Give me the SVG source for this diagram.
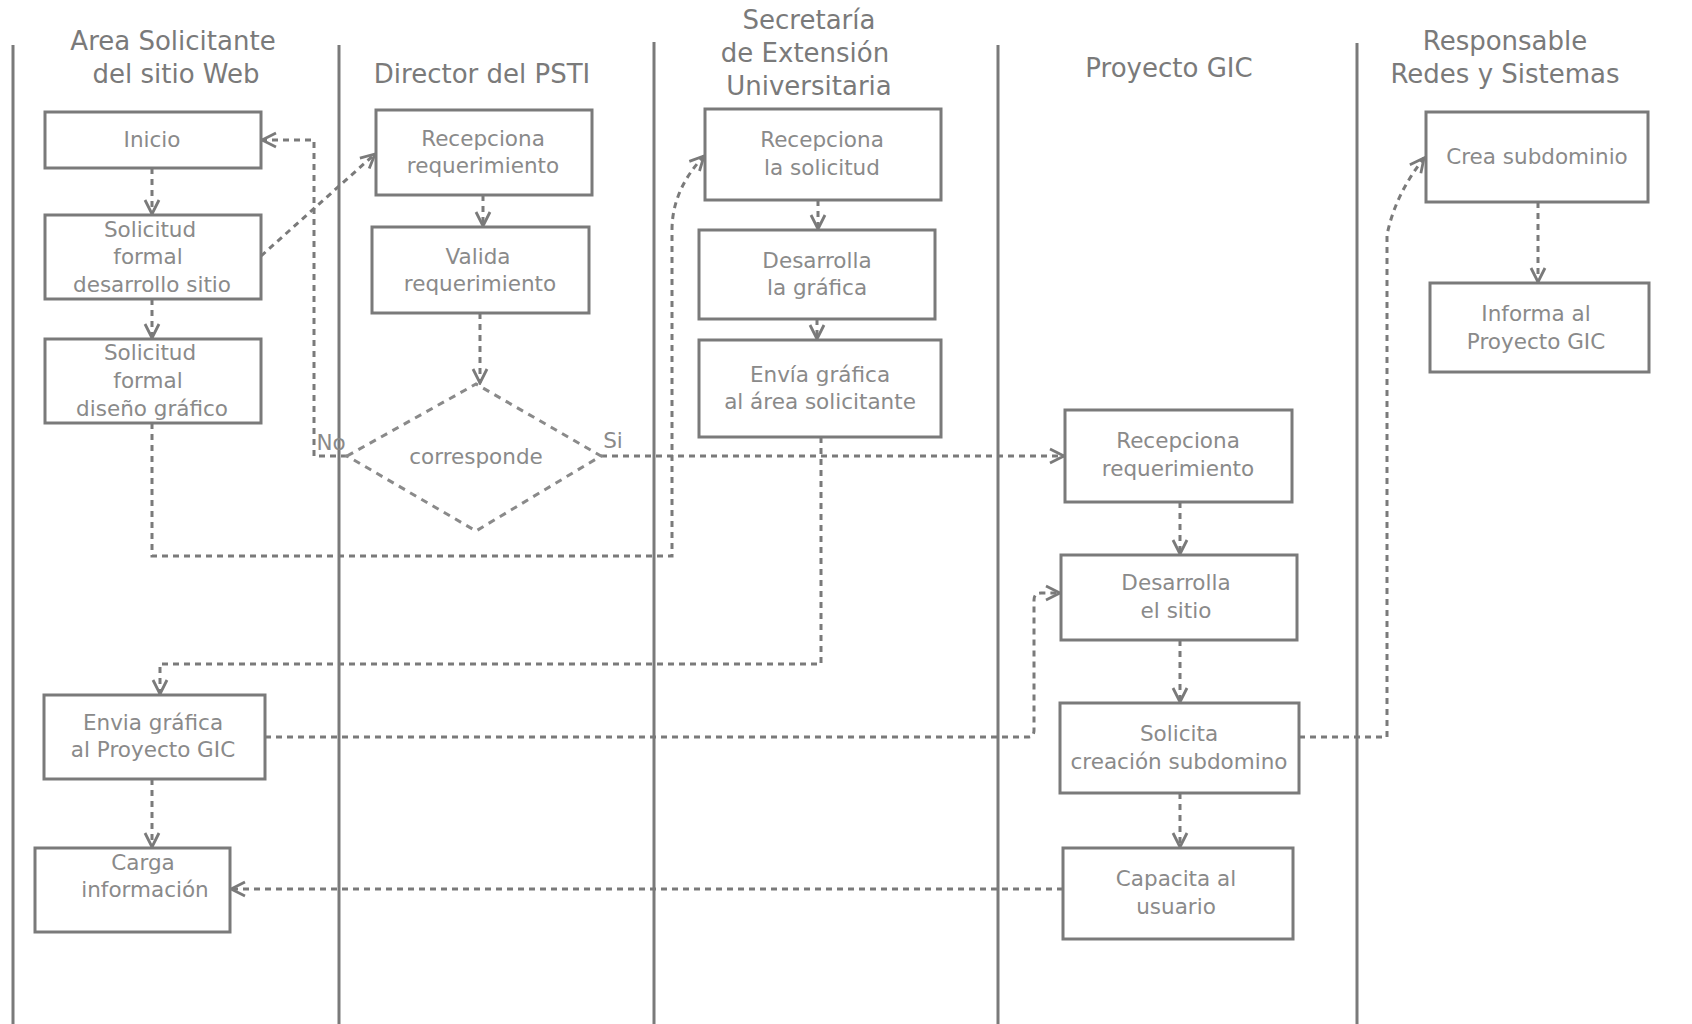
<svg xmlns="http://www.w3.org/2000/svg" width="1692" height="1024" viewBox="0 0 1692 1024">
<defs>
<style>
.lane{stroke:#7a7a7a;stroke-width:3;fill:none}
.hdr{font-family:"DejaVu Sans",sans-serif;font-size:26px;fill:#7a7a7a;text-anchor:middle;dominant-baseline:central}
.box{fill:#fff;stroke:#7a7a7a;stroke-width:3}
.lbl{font-family:"DejaVu Sans",sans-serif;font-size:21.5px;fill:#8a8a8a;text-anchor:middle;dominant-baseline:central}
.c{fill:none;stroke:#7a7a7a;stroke-width:3;stroke-dasharray:6 5}
.ca{fill:none;stroke:#7a7a7a;stroke-width:3;stroke-dasharray:6 5;marker-end:url(#arr)}
.dia{fill:none;stroke:#8a8a8a;stroke-width:3;stroke-dasharray:7 6}
</style>
<marker id="arr" viewBox="0 0 18 18" refX="16" refY="9" markerWidth="18" markerHeight="18" markerUnits="userSpaceOnUse" orient="auto">
<path d="M2,2 L16,9 L2,16" fill="none" stroke="#7a7a7a" stroke-width="2.8" stroke-dasharray="none"/>
</marker>
</defs>
<rect width="1692" height="1024" fill="#fff"/>

<g id="lanes">
<line class="lane" x1="13" y1="45" x2="13" y2="1024"/>
<line class="lane" x1="339" y1="45" x2="339" y2="1024"/>
<line class="lane" x1="654" y1="42" x2="654" y2="1024"/>
<line class="lane" x1="998" y1="45" x2="998" y2="1024"/>
<line class="lane" x1="1357" y1="43" x2="1357" y2="1024"/>
</g>

<g id="headers">
<text class="hdr" x="173" y="41">Area Solicitante</text>
<text class="hdr" x="176" y="74">del sitio Web</text>
<text class="hdr" x="482" y="74">Director del PSTI</text>
<text class="hdr" x="809" y="20">Secretaría</text>
<text class="hdr" x="805" y="53">de Extensión</text>
<text class="hdr" x="809" y="86">Universitaria</text>
<text class="hdr" x="1169" y="68">Proyecto GIC</text>
<text class="hdr" x="1505" y="41">Responsable</text>
<text class="hdr" x="1505" y="74">Redes y Sistemas</text>
</g>

<g id="connectors">
<path class="ca" d="M152,168 V214"/>
<path class="ca" d="M152,299 V338"/>
<path class="ca" d="M261,256 L375,154"/>
<path class="ca" d="M152,423 V556 H672 V230 Q672,190 704,156"/>
<path class="ca" d="M483,195 V226"/>
<path class="ca" d="M480,313 V383"/>
<path class="ca" d="M347,456 H314 V140 H262"/>
<path class="ca" d="M601,456 H1064"/>
<path class="ca" d="M818,200 V229"/>
<path class="ca" d="M817,319 V339"/>
<path class="ca" d="M821,437 V664 H160 V694"/>
<path class="ca" d="M265,737 H1029 Q1034,737 1034,730 V600 Q1034,593 1041,593 H1060"/>
<path class="ca" d="M152,779 V847"/>
<path class="ca" d="M1063,889 H231"/>
<path class="ca" d="M1180,502 V554"/>
<path class="ca" d="M1180,640 V702"/>
<path class="ca" d="M1180,793 V847"/>
<path class="ca" d="M1299,737 H1387 V235 Q1395,195 1424,158"/>
<path class="ca" d="M1538,202 V282"/>
</g>

<g id="n_inicio">
<rect class="box" x="45" y="112" width="216" height="56"/>
<text class="lbl" x="152" y="139">Inicio</text>
</g>
<g id="n_sol_desarrollo">
<rect class="box" x="45" y="215" width="216" height="84"/>
<text class="lbl" x="150" y="229">Solicitud</text>
<text class="lbl" x="148" y="256">formal</text>
<text class="lbl" x="152" y="284">desarrollo sitio</text>
</g>
<g id="n_sol_diseno">
<rect class="box" x="45" y="339" width="216" height="84"/>
<text class="lbl" x="150" y="352">Solicitud</text>
<text class="lbl" x="148" y="380">formal</text>
<text class="lbl" x="152" y="408">diseño gráfico</text>
</g>
<g id="n_envia_gic">
<rect class="box" x="44" y="695" width="221" height="84"/>
<text class="lbl" x="153" y="722">Envia gráfica</text>
<text class="lbl" x="153" y="749">al Proyecto GIC</text>
</g>
<g id="n_carga">
<rect class="box" x="35" y="848" width="195" height="84"/>
<text class="lbl" x="143" y="862">Carga</text>
<text class="lbl" x="145" y="889">información</text>
</g>

<g id="n_dir_recepciona">
<rect class="box" x="376" y="110" width="216" height="85"/>
<text class="lbl" x="483" y="138">Recepciona</text>
<text class="lbl" x="483" y="165">requerimiento</text>
</g>
<g id="n_valida">
<rect class="box" x="372" y="227" width="217" height="86"/>
<text class="lbl" x="478" y="256">Valida</text>
<text class="lbl" x="480" y="283">requerimiento</text>
</g>
<g id="n_corresponde">
<polygon class="dia" points="347,456 476,384 601,456 476,531"/>
<text class="lbl" x="476" y="456">corresponde</text>
<text class="lbl" x="331" y="442">No</text>
<text class="lbl" x="613" y="440">Si</text>
</g>

<g id="n_sec_recepciona">
<rect class="box" x="705" y="109" width="236" height="91"/>
<text class="lbl" x="822" y="139">Recepciona</text>
<text class="lbl" x="822" y="167">la solicitud</text>
</g>
<g id="n_sec_desarrolla">
<rect class="box" x="699" y="230" width="236" height="89"/>
<text class="lbl" x="817" y="260">Desarrolla</text>
<text class="lbl" x="817" y="287">la gráfica</text>
</g>
<g id="n_sec_envia">
<rect class="box" x="699" y="340" width="242" height="97"/>
<text class="lbl" x="820" y="374">Envía gráfica</text>
<text class="lbl" x="820" y="401">al área solicitante</text>
</g>

<g id="n_gic_recepciona">
<rect class="box" x="1065" y="410" width="227" height="92"/>
<text class="lbl" x="1178" y="440">Recepciona</text>
<text class="lbl" x="1178" y="468">requerimiento</text>
</g>
<g id="n_gic_desarrolla">
<rect class="box" x="1061" y="555" width="236" height="85"/>
<text class="lbl" x="1176" y="582">Desarrolla</text>
<text class="lbl" x="1176" y="610">el sitio</text>
</g>
<g id="n_gic_solicita">
<rect class="box" x="1060" y="703" width="239" height="90"/>
<text class="lbl" x="1179" y="733">Solicita</text>
<text class="lbl" x="1179" y="761">creación subdomino</text>
</g>
<g id="n_gic_capacita">
<rect class="box" x="1063" y="848" width="230" height="91"/>
<text class="lbl" x="1176" y="878">Capacita al</text>
<text class="lbl" x="1176" y="906">usuario</text>
</g>

<g id="n_crea">
<rect class="box" x="1426" y="112" width="222" height="90"/>
<text class="lbl" x="1537" y="156">Crea subdominio</text>
</g>
<g id="n_informa">
<rect class="box" x="1430" y="283" width="219" height="89"/>
<text class="lbl" x="1536" y="313">Informa al</text>
<text class="lbl" x="1536" y="341">Proyecto GIC</text>
</g>
</svg>
